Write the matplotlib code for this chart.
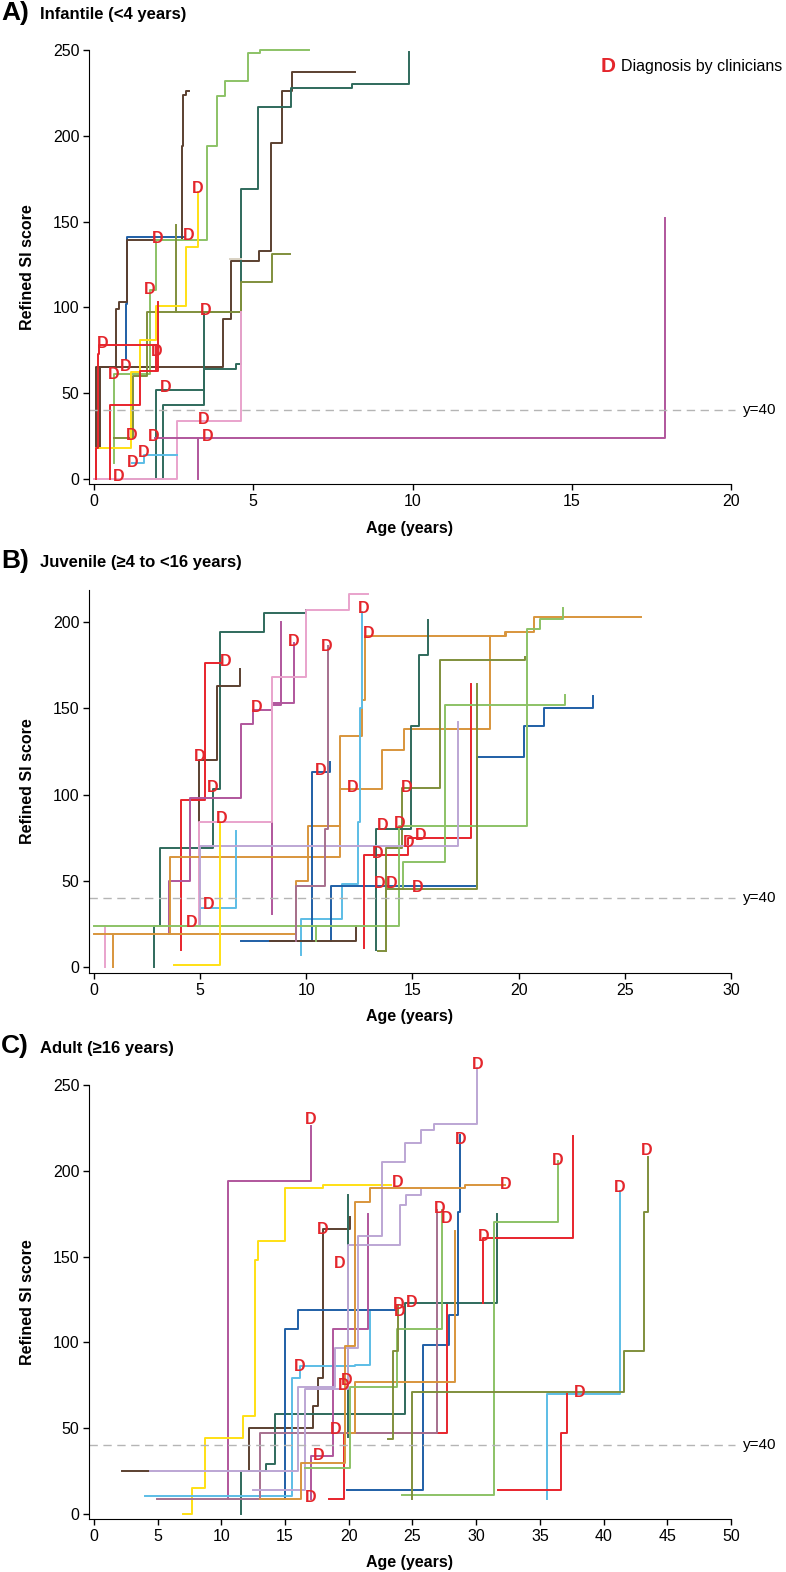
import matplotlib
matplotlib.use('Agg')
import matplotlib.pyplot as plt

plt.rcParams['font.family'] = ['Liberation Sans', 'DejaVu Sans']

# colours used for the patient trajectories
blue = '#1f5fa6'
brown = '#5b4030'
lgreen = '#8cc266'
teal = '#2f6a5c'
yellow = '#ffe014'
red = '#e8242c'
olive = '#808f3c'
pink = '#e9a3cc'
magenta = '#b0569c'
lblue = '#5cbde6'
orange = '#d8953c'
lavender = '#bca6d4'
mauve = '#a6708e'
grey = '#d9d2c3'
dred = '#e4262c'

# ---- panel A: infantile ----
a_ages = [
    [1.0, 1.0, 1.05, 2.85],
    [0.2, 0.2, 0.7, 0.78, 1.05, 2.75, 2.78, 2.90, 2.98],
    [0.05, 0.05, 4.04, 4.30, 5.19, 5.55, 5.89, 6.21, 8.2],
    [0.63, 0.63, 1.75, 1.96, 3.55, 3.85, 4.11, 4.84, 5.21, 6.76],
    [1.0, 2.17, 3.46, 4.46, 4.63, 5.15, 6.2, 8.1, 9.9],
    [1.96, 1.96, 3.46, 4.63],
    [0.63, 1.23, 1.65, 4.63, 5.58, 6.15],
    [2.56, 2.56],
    [0.07, 1.16, 1.43, 1.96, 2.88, 3.28],
    [0.0, 2.62, 4.63],
    [1.9, 17.93],
    [3.27, 3.27],
    [1.2, 1.57, 2.62],
    [0.07, 0.07, 0.12, 0.17, 1.96],
    [0.5, 0.5, 1.43, 2.0, 2.0],
    [4.27, 4.63],
]
a_scores = [
    [70, 102, 141, 141],
    [18, 65, 99, 103, 139, 194, 224, 226, 226],
    [0, 65, 93, 127, 133, 196, 226, 237, 237],
    [9, 61, 110, 139, 194, 223, 232, 248, 250, 250],
    [0, 43, 64, 67, 169, 217, 228, 230, 249],
    [0, 52, 97, 97],
    [24, 60, 97, 115, 131, 131],
    [97, 148],
    [18, 62, 81, 101, 135, 167],
    [0, 33.5, 97],
    [24, 152],
    [0, 24],
    [9, 14, 14],
    [0, 18, 73, 78, 63],
    [0, 43, 63, 81, 103],
    [128, 128],
]
a_colors = [blue, brown, brown, lgreen, teal, teal, olive, olive, yellow, pink,
            magenta, magenta, lblue, red, red, grey]
a_diag_age = [3.25, 2.0, 2.96, 1.75, 3.51, 0.28, 1.98, 1.0, 0.63, 2.24, 3.44,
              1.17, 1.86, 3.56, 1.57, 1.21, 0.78]
a_diag_score = [169, 140, 142, 110.5, 98.4, 79, 74.5, 65.4, 60.9, 53.5, 34.6,
                25.3, 24.9, 24.9, 15.2, 9.7, 1.2]

# ---- panel B: juvenile ----
b_ages = [
    [2.84, 2.84, 3.09, 5.6, 5.95, 8.0, 9.97],
    [4.95, 4.95, 5.8, 6.86],
    [4.11, 4.11, 5.21, 6.0],
    [3.52, 3.52, 4.5, 6.94, 7.49, 8.4, 9.42],
    [8.4, 8.4, 8.8],
    [4.95, 4.95, 8.4, 9.97, 12.0, 12.9],
    [0.5, 0.5],
    [0.0, 9.53, 10.08, 11.57, 13.58, 14.6, 18.65, 19.36, 20.7, 25.75],
    [0.9, 0.9],
    [3.56, 3.56, 11.57, 12.64, 12.75, 19.4],
    [5.0, 5.0, 6.67],
    [9.76, 9.76, 11.7, 12.43, 12.55, 12.6],
    [6.9, 10.27, 11.1],
    [11.18, 11.18, 18.03, 20.25, 21.21, 23.5],
    [8.3, 12.35],
    [12.7, 12.7, 14.8, 17.74],
    [13.38, 13.74, 14.49, 16.3, 20.3],
    [13.27, 13.27, 14.93, 15.3, 15.75],
    [0.0, 14.38, 20.4, 21.0, 22.1],
    [14.55, 14.55, 16.54, 22.2],
    [13.74, 13.74, 18.05],
    [4.98, 4.98, 17.16],
    [3.75, 5.95],
    [9.53, 9.53, 10.86, 11.0],
    [10.47, 10.47],
]
b_scores = [
    [0, 24, 69, 103, 194, 205, 207],
    [45, 120, 163, 173],
    [10, 97, 176, 176],
    [19, 50, 98, 141, 149, 153, 188],
    [31, 152, 200],
    [25, 84, 168, 207, 216, 216],
    [0, 24],
    [19, 50, 82, 103, 126, 138, 192, 194, 203, 203],
    [0, 19],
    [19, 64, 134, 155, 192, 194],
    [25, 34, 79],
    [7, 28, 48, 84, 150, 206],
    [15, 113, 119],
    [15, 47, 122, 140, 150, 157],
    [15, 24],
    [11, 65, 75, 164],
    [9, 69, 104, 178, 180],
    [10, 80, 140, 181, 201],
    [24, 82, 196, 202, 208],
    [45, 61, 152, 158],
    [9, 45, 164],
    [25, 70, 142],
    [1, 84],
    [15, 47, 80, 186],
    [15, 24],
]
b_colors = [teal, brown, red, magenta, magenta, pink, pink, orange, orange, orange,
            lblue, lblue, blue, blue, brown, red, olive, teal, lgreen, lgreen,
            olive, lavender, yellow, mauve, lgreen]
b_diag_age = [6.19, 9.42, 10.94, 12.72, 12.95, 7.65, 4.98, 5.6, 6.0, 10.66, 12.2,
              13.58, 14.38, 13.34, 13.45, 14.0, 5.42, 4.62, 14.73, 14.8, 15.39, 15.23]
b_diag_score = [177, 188.6, 186, 208, 193.4, 150.5, 122, 104, 86, 114, 104,
                82, 83, 66, 48.5, 48.5, 36, 25.7, 104, 72, 76, 46]

# ---- panel C: adult ----
c_ages = [
    [10.55, 10.55, 17.04],
    [6.96, 7.72, 8.72, 11.73, 12.64, 12.85, 15.0, 17.96, 23.3],
    [2.22, 4.32],
    [12.2, 12.2, 17.17, 17.62, 17.96, 20.1],
    [11.52, 11.52, 13.5, 14.2, 24.4, 31.6],
    [19.92, 19.92],
    [13.0, 15.0, 16.05, 23.9],
    [19.84, 25.86, 27.9, 28.6, 28.75],
    [4.0, 15.52, 16.18, 20.5, 21.68],
    [35.55, 35.55, 41.3],
    [31.75, 36.65, 37.12],
    [30.52, 30.52, 37.59],
    [18.48, 19.66, 27.7],
    [4.97, 13.04, 26.9],
    [17.0, 17.0, 18.8, 21.54],
    [4.4, 16.05, 18.9, 20.76, 22.6, 24.4, 25.7, 26.7, 30.1],
    [12.46, 16.57, 19.97, 24.0, 24.5, 25.7],
    [13.04, 16.25, 19.71, 20.45, 21.68, 29.1, 32.3],
    [20.0, 20.5, 28.3],
    [16.57, 20.1, 23.8, 27.3],
    [24.2, 31.36, 36.45],
    [25.0, 25.0, 41.6, 43.2, 43.5],
    [23.06, 23.5, 23.9],
]
c_scores = [
    [9, 194, 226],
    [0, 15, 44.5, 57, 148, 159, 190, 192, 192],
    [25, 25],
    [25, 50, 63, 79, 166, 173],
    [0, 25, 29, 58, 123, 175],
    [45, 186],
    [9, 108, 119, 119],
    [14, 98.5, 116, 176, 221],
    [10.5, 79, 86, 87, 118],
    [9, 70, 188],
    [14, 47, 70],
    [123, 161, 220],
    [9, 47, 122],
    [9, 47, 177],
    [9, 34, 108, 175],
    [25, 74, 97, 162, 205, 216, 224, 227, 260],
    [14, 73, 157, 180, 186, 189],
    [9, 30, 98, 182, 190, 192, 192],
    [47, 77, 165],
    [27, 74, 108, 177],
    [11, 170, 206],
    [9, 71, 95, 176, 208],
    [44, 95, 122],
]
c_colors = [magenta, yellow, brown, brown, teal, teal, blue, blue, lblue, lblue,
            red, red, red, mauve, magenta, lavender, lavender, orange, orange,
            lgreen, lgreen, olive, olive]
c_diag_age = [17.0, 17.93, 19.27, 16.18, 19.6, 19.85, 19.0, 17.6, 17.04, 30.1, 28.8,
              36.4, 43.4, 41.3, 23.8, 32.3, 27.1, 27.7, 30.6, 23.9, 24.0, 24.9, 38.1]
c_diag_score = [230, 166, 146, 86, 75, 78, 49, 34, 9.5, 262, 218,
                206, 212, 190, 193, 192, 178, 172, 162, 122, 118, 123, 71]

fig = plt.figure(figsize=(7.86, 15.72), dpi=100)
W, H = 786.0, 1572.0


def panel(top, bottom, xmax, xlo, ylo, yhi, xticks, yticks, ages, scores, colors,
          dx, dy, letter, title, title_y):
    ax = fig.add_axes([89 / W, 1 - bottom / H, (731 - 89) / W, (bottom - top) / H])
    for xs, ys, c in zip(ages, scores, colors):
        ax.plot(xs, ys, drawstyle='steps-post', color=c, lw=1.4, clip_on=False)
    for x, y in zip(dx, dy):
        ax.text(x, y, 'D', color=dred, fontsize=11.5, fontweight='bold',
                ha='center', va='center')
    ax.axhline(40, xmin=0, xmax=1.007, color='#b5b5b5', lw=1, ls=(0, (6, 4)),
               clip_on=False)
    ax.text(1.0187, 40, 'y=40', transform=ax.get_yaxis_transform(),
            fontsize=11, va='center', ha='left')
    ax.set_xlim(xlo, xmax)
    ax.set_ylim(ylo, yhi)
    ax.set_xticks(xticks)
    ax.set_yticks(yticks)
    ax.spines['top'].set_visible(False)
    ax.spines['right'].set_visible(False)
    ax.spines['left'].set_bounds(ylo, yhi)
    ax.tick_params(labelsize=11.5, length=4, width=1, direction='out', pad=3)
    ax.set_xlabel('Age (years)', fontsize=11.5, fontweight='bold')
    ax.set_ylabel('Refined SI score', fontsize=11.5, fontweight='bold')
    h = bottom - top
    ax.xaxis.set_label_coords(0.5, -44 / h)
    ax.yaxis.set_label_coords(-61 / 642, 0.5)
    ax.xaxis.label.set_va('center')
    ax.yaxis.label.set_va('center')
    fig.text(1 / W, 1 - title_y / H, letter, fontsize=19, fontweight='bold',
             va='center', ha='left')
    fig.text(40 / W, 1 - (title_y + 2) / H, title, fontsize=12, fontweight='bold',
             va='center', ha='left')
    return ax


axA = panel(50, 484, 20, -0.157, -3, 250, range(0, 21, 5), range(0, 251, 50),
            a_ages, a_scores, a_colors, a_diag_age, a_diag_score,
            'A)', 'Infantile (<4 years)', 13)
axB = panel(590, 973, 30, -0.235, -3.5, 218.6, range(0, 31, 5), range(0, 201, 50),
            b_ages, b_scores, b_colors, b_diag_age, b_diag_score,
            'B)', 'Juvenile (\u22654 to <16 years)', 561)
axC = panel(1085, 1519, 50, -0.39, -2.9, 250, range(0, 51, 5), range(0, 251, 50),
            c_ages, c_scores, c_colors, c_diag_age, c_diag_score,
            'C)', 'Adult (\u226516 years)', 1046)

# legend for the diagnosis marker
fig.text(608 / W, 1 - 66 / H, 'D', color=dred, fontsize=15, fontweight='bold',
         ha='center', va='center')
fig.text(621 / W, 1 - 67 / H, 'Diagnosis by clinicians', fontsize=11.5,
         ha='left', va='center')

fig.savefig('out.png', dpi=100)
